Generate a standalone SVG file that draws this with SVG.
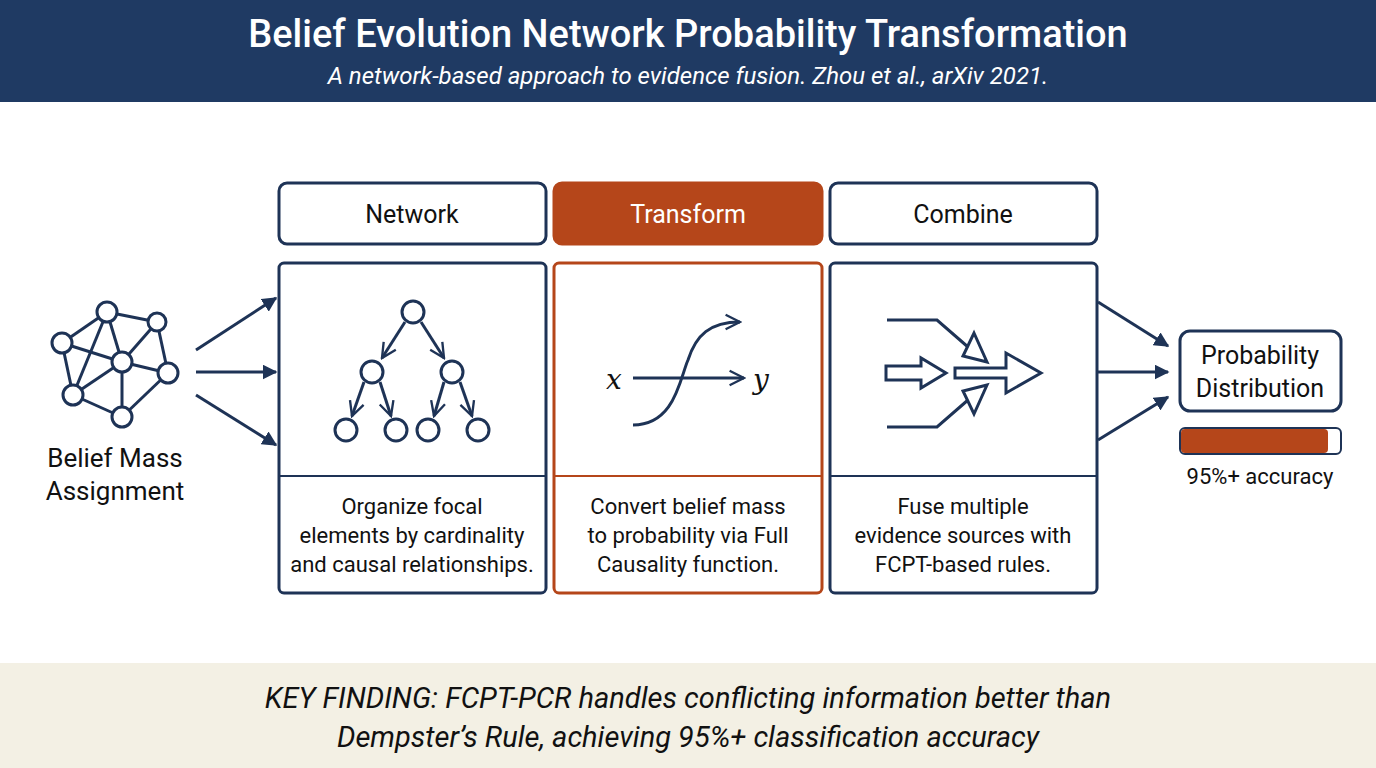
<svg xmlns="http://www.w3.org/2000/svg" width="1376" height="768" viewBox="0 0 1376 768">
<defs>
<marker id="ah" viewBox="0 0 10 10" refX="9" refY="5" markerWidth="5" markerHeight="5" orient="auto" markerUnits="strokeWidth"><path d="M0,0 L10,5 L0,10 z" fill="#1e3356"/></marker>
<marker id="ah2" viewBox="0 0 10 10" refX="9" refY="5" markerWidth="6" markerHeight="6" orient="auto" markerUnits="strokeWidth"><path d="M1,1 L9,5 L1,9" fill="none" stroke="#1e3356" stroke-width="1.3"/></marker>
</defs>
<style>
.t{font-family:Roboto,"Liberation Sans",sans-serif;fill:#111}
.n{fill:#fff;stroke:#1e3356;stroke-width:3}
.ln{stroke:#1e3356;stroke-width:3;fill:none}
.box{fill:#fff;stroke:#1e3356;stroke-width:3}
</style>
<rect width="1376" height="768" fill="#fff"/>
<rect width="1376" height="102" fill="#1f3a63"/>
<text x="688" y="47" text-anchor="middle" class="t" style="fill:#fff;font-size:38px;font-weight:500">Belief Evolution Network Probability Transformation</text>
<text x="688" y="84" text-anchor="middle" class="t" style="fill:#fff;font-size:24px;font-style:italic">A network-based approach to evidence fusion. Zhou et al., arXiv 2021.</text>

<g id="input">
<g class="ln">
<line x1="107" y1="312" x2="62" y2="343"/><line x1="107" y1="312" x2="157" y2="322"/><line x1="107" y1="312" x2="122" y2="362"/><line x1="107" y1="312" x2="73" y2="395"/>
<line x1="157" y1="322" x2="122" y2="362"/><line x1="157" y1="322" x2="168" y2="373"/>
<line x1="62" y1="343" x2="122" y2="362"/><line x1="62" y1="343" x2="73" y2="395"/>
<line x1="122" y1="362" x2="168" y2="373"/><line x1="122" y1="362" x2="73" y2="395"/><line x1="122" y1="362" x2="122" y2="417"/>
<line x1="73" y1="395" x2="122" y2="417"/><line x1="122" y1="417" x2="168" y2="373"/>
</g>
<circle class="n" cx="107" cy="312" r="10"/><circle class="n" cx="157" cy="322" r="9"/><circle class="n" cx="62" cy="343" r="10"/><circle class="n" cx="122" cy="362" r="10"/><circle class="n" cx="168" cy="373" r="10"/><circle class="n" cx="73" cy="395" r="10"/><circle class="n" cx="122" cy="417" r="10"/>
<text x="115" y="467" text-anchor="middle" class="t" style="font-size:26px">Belief Mass</text>
<text x="115" y="500" text-anchor="middle" class="t" style="font-size:26px">Assignment</text>
</g>

<g id="network">
<rect class="box" x="279" y="183" width="267" height="61" rx="8"/>
<text x="412" y="223" text-anchor="middle" class="t" style="font-size:25px">Network</text>
<rect class="box" x="279" y="263" width="267" height="330" rx="5"/>
<line x1="279" y1="476" x2="546" y2="476" stroke="#1e3356" stroke-width="2"/>
<g class="ln" marker-end="url(#ah2)">
<line x1="405" y1="322" x2="382" y2="358"/><line x1="421" y1="322" x2="444" y2="358"/>
<line x1="364" y1="382" x2="352" y2="416"/><line x1="380" y1="382" x2="391" y2="416"/>
<line x1="444" y1="382" x2="434" y2="416"/><line x1="460" y1="382" x2="472" y2="416"/>
</g>
<circle class="n" cx="413" cy="312" r="11"/><circle class="n" cx="372" cy="372" r="11"/><circle class="n" cx="452" cy="372" r="11"/>
<circle class="n" cx="346" cy="430" r="11"/><circle class="n" cx="396" cy="430" r="11"/><circle class="n" cx="428" cy="430" r="11"/><circle class="n" cx="478" cy="430" r="11"/>
<text x="412" y="514" text-anchor="middle" class="t" style="font-size:22px">Organize focal</text>
<text x="412" y="543" text-anchor="middle" class="t" style="font-size:22px">elements by cardinality</text>
<text x="412" y="572" text-anchor="middle" class="t" style="font-size:22px">and causal relationships.</text>
</g>

<g id="transform">
<rect x="554" y="183" width="268" height="61" rx="8" fill="#b5461a" stroke="#b5461a" stroke-width="3"/>
<text x="688" y="223" text-anchor="middle" class="t" style="font-size:25px;fill:#fff">Transform</text>
<rect x="554" y="263" width="268" height="330" rx="5" fill="#fff" stroke="#b5461a" stroke-width="3"/>
<line x1="554" y1="476" x2="822" y2="476" stroke="#b5461a" stroke-width="2"/>
<text x="614" y="389" text-anchor="middle" style="font-family:'DejaVu Serif','Liberation Serif',serif;font-style:italic;font-size:28px;fill:#111">x</text>
<text x="761" y="389" text-anchor="middle" style="font-family:'DejaVu Serif','Liberation Serif',serif;font-style:italic;font-size:28px;fill:#111">y</text>
<line class="ln" x1="633" y1="378" x2="744" y2="378" marker-end="url(#ah2)"/>
<path class="ln" d="M633,425 C675,425 680,378 688,360 C696,335 710,322 740,322" marker-end="url(#ah2)"/>
<text x="688" y="514" text-anchor="middle" class="t" style="font-size:22px">Convert belief mass</text>
<text x="688" y="543" text-anchor="middle" class="t" style="font-size:22px">to probability via Full</text>
<text x="688" y="572" text-anchor="middle" class="t" style="font-size:22px">Causality function.</text>
</g>

<g id="combine">
<rect class="box" x="830" y="183" width="267" height="61" rx="8"/>
<text x="963" y="223" text-anchor="middle" class="t" style="font-size:25px">Combine</text>
<rect class="box" x="830" y="263" width="267" height="330" rx="5"/>
<line x1="830" y1="476" x2="1097" y2="476" stroke="#1e3356" stroke-width="2"/>
<g class="ln" stroke-width="2.5">
<polyline points="887,320 937,320 968,347"/>
<polygon points="974,333 987,362 963,356"/>
<polyline points="887,427 937,427 968,400"/>
<polygon points="974,414 987,385 963,391"/>
<polygon points="886,366 921,366 921,358 946,373 921,388 921,380 886,380"/>
<polygon points="955,368 1006,368 1006,353 1041,373 1006,393 1006,378 955,378"/>
</g>
<text x="963" y="514" text-anchor="middle" class="t" style="font-size:22px">Fuse multiple</text>
<text x="963" y="543" text-anchor="middle" class="t" style="font-size:22px">evidence sources with</text>
<text x="963" y="572" text-anchor="middle" class="t" style="font-size:22px">FCPT-based rules.</text>
</g>

<g id="output">
<rect class="box" x="1180" y="331" width="161" height="80" rx="10"/>
<text x="1260" y="364" text-anchor="middle" class="t" style="font-size:25px">Probability</text>
<text x="1260" y="397" text-anchor="middle" class="t" style="font-size:25px">Distribution</text>
<rect x="1180" y="428" width="161" height="26" rx="5" fill="#fff" stroke="#1e3356" stroke-width="2"/>
<rect x="1181" y="429" width="147" height="24" rx="4" fill="#b5461a"/>
<text x="1260" y="484" text-anchor="middle" class="t" style="font-size:22px">95%+ accuracy</text>
</g>

<g id="connectors" class="ln" stroke-width="3">
<line x1="196" y1="350" x2="276" y2="298" marker-end="url(#ah)"/>
<line x1="196" y1="372" x2="276" y2="372" marker-end="url(#ah)"/>
<line x1="196" y1="395" x2="276" y2="445" marker-end="url(#ah)"/>
<line x1="1098" y1="302" x2="1168" y2="346" marker-end="url(#ah)"/>
<line x1="1098" y1="372" x2="1168" y2="372" marker-end="url(#ah)"/>
<line x1="1098" y1="440" x2="1168" y2="397" marker-end="url(#ah)"/>
</g>

<rect x="0" y="663" width="1376" height="105" fill="#f3f0e4"/>
<text x="688" y="708" text-anchor="middle" class="t" style="font-size:29px;font-style:italic">KEY FINDING: FCPT-PCR handles conflicting information better than</text>
<text x="688" y="747" text-anchor="middle" class="t" style="font-size:29px;font-style:italic">Dempster’s Rule, achieving 95%+ classification accuracy</text>
</svg>
